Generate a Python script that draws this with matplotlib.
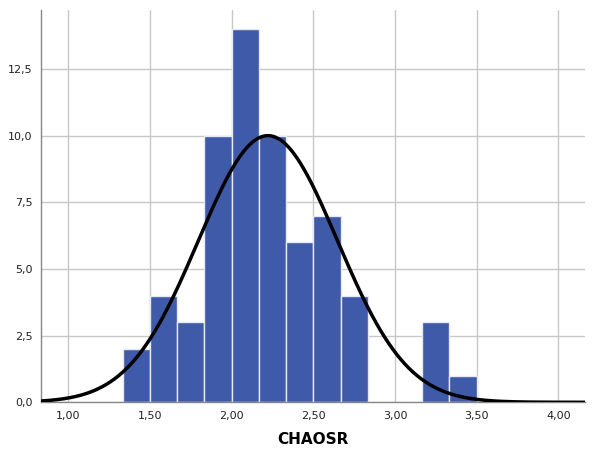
import numpy as np
import matplotlib
matplotlib.use("Agg")
import matplotlib.pyplot as plt

bin_left = [1.3333, 1.5, 1.6667, 1.8333, 2.0, 2.1667, 2.3333, 2.5, 2.6667, 3.1667, 3.3333]
counts = [2, 4, 3, 10, 14, 10, 6, 7, 4, 3, 1]
bin_width = 1 / 6
mean_val = 2.222
std_val = 0.4256
x_ticks = [1.0, 1.5, 2.0, 2.5, 3.0, 3.5, 4.0]
y_ticks = [0.0, 2.5, 5.0, 7.5, 10.0, 12.5]
x_label = "CHAOSR"

fig = plt.figure(figsize=(5.93, 4.5), dpi=100)
ax = fig.add_axes([41 / 593, 47.7 / 450, 544 / 593, 392.3 / 450])

ax.set_axisbelow(True)
ax.grid(True, color="#c8c8c8", linewidth=1.0)
ax.bar(bin_left, counts, width=bin_width, align="edge", color="#3f5aa8",
       edgecolor="#e6e9f2", linewidth=1.0, zorder=2)

n = sum(counts)
xs = np.linspace(0.833, 4.163, 400)
ys = n * bin_width / (std_val * np.sqrt(2 * np.pi)) * np.exp(-0.5 * ((xs - mean_val) / std_val) ** 2)
ax.plot(xs, ys, color="black", linewidth=2.5, zorder=3)

ax.set_xlim(0.833, 4.163)
ax.set_ylim(0, 14.71)
ax.set_xticks(x_ticks)
ax.set_xticklabels([f"{v:.2f}".replace(".", ",") for v in x_ticks])
ax.set_yticks(y_ticks)
ax.set_yticklabels([f"{v:.1f}".replace(".", ",") for v in y_ticks])
ax.tick_params(length=0, labelsize=8, colors="#222222", pad=6)

for s in ["top", "right"]:
    ax.spines[s].set_visible(False)
for s in ["left", "bottom"]:
    ax.spines[s].set_color("#888888")
    ax.spines[s].set_linewidth(1.0)

ax.set_xlabel(x_label, fontsize=11, fontweight="bold", labelpad=8)

fig.savefig("out.png", dpi=100)
